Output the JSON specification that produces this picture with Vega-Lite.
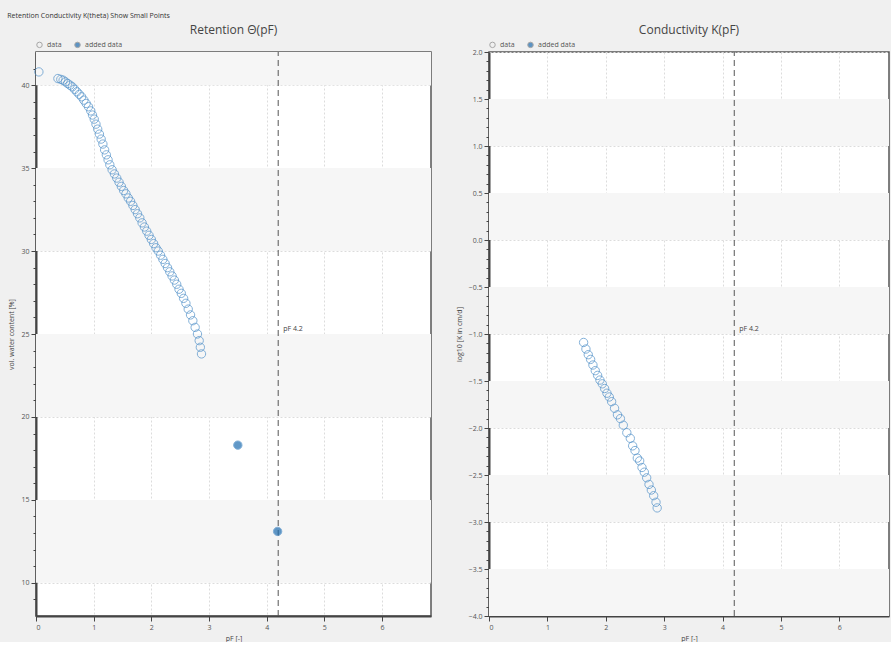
{
  "$schema": "https://vega.github.io/schema/vega-lite/v6.json",
  "background": "#f0f0f0",
  "padding": {"left": 7, "top": 12, "right": 1, "bottom": 0},
  "title": {"text": "Retention   Conductivity   K(theta)      Show Small Points", "anchor": "start", "fontSize": 7, "fontWeight": "normal", "font": "Open Sans", "color": "#333", "offset": 4},
  "config": {
    "font": "Open Sans",
    "view": {"fill": "white", "stroke": "#555", "strokeWidth": 1.5},
    "axis": {"labelFontSize": 7, "labelColor": "#555", "titleFontSize": 7, "titleFontWeight": "normal", "titleColor": "#444", "domainColor": "#444", "domainWidth": 2, "tickColor": "#444", "gridColor": "#dcdcdc", "gridDash": [2, 2], "zindex": 1, "labelPadding": 2},
    "legend": {"labelFontSize": 7, "labelColor": "#555"}
  },
  "spacing": 22,
  "resolve": {"scale": {"fill": "independent"}, "legend": {"fill": "independent"}},
  "hconcat": [
    {
      "width": 395,
      "height": 564,
      "title": {"text": "Retention Θ(pF)", "fontSize": 12, "fontWeight": "normal", "color": "#444", "offset": 4},
      "encoding": {
        "x": {"field": "x", "type": "quantitative", "scale": {"domain": [0, 6.85], "nice": false, "zero": false},
          "axis": {"title": "pF [-]", "format": "d", "values": [0, 0.5, 1, 1.5, 2, 2.5, 3, 3.5, 4, 4.5, 5, 5.5, 6, 6.5],
            "labelExpr": "datum.value % 1 === 0 ? datum.label : ''",
            "tickSize": {"condition": {"test": "datum.value % 1 === 0", "value": 5}, "value": 3},
            "gridOpacity": {"condition": {"test": "datum.value % 1 === 0", "value": 1}, "value": 0},
            "titlePadding": 4}},
        "y": {"field": "y", "type": "quantitative", "scale": {"domain": [8, 42], "nice": false, "zero": false},
          "axis": {"title": "vol. water content [%]", "values": [9, 10, 11, 12, 13, 14, 15, 16, 17, 18, 19, 20, 21, 22, 23, 24, 25, 26, 27, 28, 29, 30, 31, 32, 33, 34, 35, 36, 37, 38, 39, 40, 41],
            "labelExpr": "datum.value % 5 === 0 ? datum.label : ''",
            "tickSize": {"condition": {"test": "datum.value % 5 === 0", "value": 5}, "value": 3},
            "gridOpacity": {"condition": {"test": "datum.value % 5 === 0", "value": 1}, "value": 0},
            "titlePadding": 6}}
      },
      "layer": [
        {
          "data": {"values": [
            {"x": 0, "x2": 6.85, "y": 10, "y2": 15},
            {"x": 0, "x2": 6.85, "y": 20, "y2": 25},
            {"x": 0, "x2": 6.85, "y": 30, "y2": 35},
            {"x": 0, "x2": 6.85, "y": 40, "y2": 42}
          ]},
          "mark": {"type": "rect", "fill": "#f6f6f6"},
          "encoding": {"x2": {"field": "x2"}, "y2": {"field": "y2"}}
        },
        {
          "data": {"values": [{"x": 4.2, "y": 8, "y2": 42}]},
          "mark": {"type": "rule", "color": "#555", "strokeDash": [6, 4], "strokeWidth": 1},
          "encoding": {"y2": {"field": "y2"}}
        },
        {
          "data": {"values": [{"x": 4.2, "y": 25.3, "label": "pF 4.2"}]},
          "mark": {"type": "text", "align": "left", "dx": 5, "fontSize": 7, "color": "#444"},
          "encoding": {"text": {"field": "label"}}
        },
        {
          "data": {"values": [
            {"x": 0.05, "y": 40.8, "series": "data"},
            {"x": 0.38, "y": 40.4, "series": "data"},
            {"x": 0.43, "y": 40.35, "series": "data"},
            {"x": 0.47, "y": 40.3, "series": "data"},
            {"x": 0.51, "y": 40.2, "series": "data"},
            {"x": 0.55, "y": 40.1, "series": "data"},
            {"x": 0.59, "y": 40.0, "series": "data"},
            {"x": 0.63, "y": 39.9, "series": "data"},
            {"x": 0.67, "y": 39.75, "series": "data"},
            {"x": 0.71, "y": 39.6, "series": "data"},
            {"x": 0.75, "y": 39.45, "series": "data"},
            {"x": 0.79, "y": 39.3, "series": "data"},
            {"x": 0.83, "y": 39.1, "series": "data"},
            {"x": 0.87, "y": 38.9, "series": "data"},
            {"x": 0.91, "y": 38.7, "series": "data"},
            {"x": 0.95, "y": 38.45, "series": "data"},
            {"x": 0.98, "y": 38.2, "series": "data"},
            {"x": 1.01, "y": 37.95, "series": "data"},
            {"x": 1.04, "y": 37.65, "series": "data"},
            {"x": 1.07, "y": 37.35, "series": "data"},
            {"x": 1.10, "y": 37.05, "series": "data"},
            {"x": 1.13, "y": 36.75, "series": "data"},
            {"x": 1.16, "y": 36.45, "series": "data"},
            {"x": 1.19, "y": 36.1, "series": "data"},
            {"x": 1.22, "y": 35.8, "series": "data"},
            {"x": 1.25, "y": 35.5, "series": "data"},
            {"x": 1.28, "y": 35.2, "series": "data"},
            {"x": 1.32, "y": 34.9, "series": "data"},
            {"x": 1.36, "y": 34.65, "series": "data"},
            {"x": 1.40, "y": 34.4, "series": "data"},
            {"x": 1.44, "y": 34.15, "series": "data"},
            {"x": 1.48, "y": 33.9, "series": "data"},
            {"x": 1.52, "y": 33.65, "series": "data"},
            {"x": 1.56, "y": 33.45, "series": "data"},
            {"x": 1.60, "y": 33.2, "series": "data"},
            {"x": 1.64, "y": 33.0, "series": "data"},
            {"x": 1.68, "y": 32.75, "series": "data"},
            {"x": 1.72, "y": 32.5, "series": "data"},
            {"x": 1.76, "y": 32.25, "series": "data"},
            {"x": 1.80, "y": 32.0, "series": "data"},
            {"x": 1.84, "y": 31.7, "series": "data"},
            {"x": 1.88, "y": 31.45, "series": "data"},
            {"x": 1.92, "y": 31.2, "series": "data"},
            {"x": 1.96, "y": 30.95, "series": "data"},
            {"x": 2.00, "y": 30.7, "series": "data"},
            {"x": 2.04, "y": 30.45, "series": "data"},
            {"x": 2.08, "y": 30.2, "series": "data"},
            {"x": 2.12, "y": 30.0, "series": "data"},
            {"x": 2.16, "y": 29.75, "series": "data"},
            {"x": 2.20, "y": 29.5, "series": "data"},
            {"x": 2.24, "y": 29.25, "series": "data"},
            {"x": 2.28, "y": 29.0, "series": "data"},
            {"x": 2.32, "y": 28.75, "series": "data"},
            {"x": 2.36, "y": 28.5, "series": "data"},
            {"x": 2.40, "y": 28.25, "series": "data"},
            {"x": 2.44, "y": 28.0, "series": "data"},
            {"x": 2.48, "y": 27.7, "series": "data"},
            {"x": 2.52, "y": 27.45, "series": "data"},
            {"x": 2.56, "y": 27.15, "series": "data"},
            {"x": 2.60, "y": 26.85, "series": "data"},
            {"x": 2.64, "y": 26.5, "series": "data"},
            {"x": 2.68, "y": 26.15, "series": "data"},
            {"x": 2.72, "y": 25.8, "series": "data"},
            {"x": 2.76, "y": 25.4, "series": "data"},
            {"x": 2.80, "y": 25.0, "series": "data"},
            {"x": 2.83, "y": 24.6, "series": "data"},
            {"x": 2.85, "y": 24.2, "series": "data"},
            {"x": 2.87, "y": 23.8, "series": "data"},
            {"x": 3.5, "y": 18.3, "series": "added data"},
            {"x": 4.19, "y": 13.1, "series": "added data"}
          ]},
          "mark": {"type": "point", "shape": "circle", "filled": false, "size": 70, "stroke": "#4f90c9", "strokeWidth": 1},
          "encoding": {
            "fill": {"field": "series", "type": "nominal",
              "scale": {"domain": ["data", "added data"], "range": ["rgba(255,255,255,0)", "#1f6db0"]},
              "legend": {"orient": "top", "direction": "horizontal", "title": null, "symbolSize": 30, "symbolStrokeColor": "#888", "symbolStrokeWidth": 1, "offset": 2, "padding": 0, "columnPadding": 10}
            }
          }
        }
      ]
    },
    {
      "width": 400,
      "height": 564,
      "title": {"text": "Conductivity K(pF)", "fontSize": 12, "fontWeight": "normal", "color": "#444", "offset": 4},
      "encoding": {
        "x": {"field": "x", "type": "quantitative", "scale": {"domain": [0, 6.85], "nice": false, "zero": false},
          "axis": {"title": "pF [-]", "format": "d", "values": [0, 0.5, 1, 1.5, 2, 2.5, 3, 3.5, 4, 4.5, 5, 5.5, 6, 6.5],
            "labelExpr": "datum.value % 1 === 0 ? datum.label : ''",
            "tickSize": {"condition": {"test": "datum.value % 1 === 0", "value": 5}, "value": 3},
            "gridOpacity": {"condition": {"test": "datum.value % 1 === 0", "value": 1}, "value": 0},
            "titlePadding": 4}},
        "y": {"field": "y", "type": "quantitative", "scale": {"domain": [-4, 2], "nice": false, "zero": false},
          "axis": {"title": "log10 [K in cm/d]", "format": ".1f",
            "values": [-4, -3.9, -3.8, -3.7, -3.6, -3.5, -3.4, -3.3, -3.2, -3.1, -3, -2.9, -2.8, -2.7, -2.6, -2.5, -2.4, -2.3, -2.2, -2.1, -2, -1.9, -1.8, -1.7, -1.6, -1.5, -1.4, -1.3, -1.2, -1.1, -1, -0.9, -0.8, -0.7, -0.6, -0.5, -0.4, -0.3, -0.2, -0.1, 0, 0.1, 0.2, 0.3, 0.4, 0.5, 0.6, 0.7, 0.8, 0.9, 1, 1.1, 1.2, 1.3, 1.4, 1.5, 1.6, 1.7, 1.8, 1.9, 2],
            "labelExpr": "abs(datum.value * 2 - round(datum.value * 2)) < 0.001 ? datum.label : ''",
            "tickSize": {"condition": {"test": "abs(datum.value * 2 - round(datum.value * 2)) < 0.001", "value": 5}, "value": 3},
            "gridOpacity": {"condition": {"test": "abs(datum.value * 2 - round(datum.value * 2)) < 0.001", "value": 1}, "value": 0},
            "titlePadding": 6}}
      },
      "layer": [
        {
          "data": {"values": [
            {"x": 0, "x2": 6.85, "y": 1.0, "y2": 1.5},
            {"x": 0, "x2": 6.85, "y": 0.0, "y2": 0.5},
            {"x": 0, "x2": 6.85, "y": -1.0, "y2": -0.5},
            {"x": 0, "x2": 6.85, "y": -2.0, "y2": -1.5},
            {"x": 0, "x2": 6.85, "y": -3.0, "y2": -2.5},
            {"x": 0, "x2": 6.85, "y": -4.0, "y2": -3.5}
          ]},
          "mark": {"type": "rect", "fill": "#f6f6f6"},
          "encoding": {"x2": {"field": "x2"}, "y2": {"field": "y2"}}
        },
        {
          "data": {"values": [{"x": 4.2, "y": -4, "y2": 2}]},
          "mark": {"type": "rule", "color": "#555", "strokeDash": [6, 4], "strokeWidth": 1},
          "encoding": {"y2": {"field": "y2"}}
        },
        {
          "data": {"values": [{"x": 4.2, "y": -0.95, "label": "pF 4.2"}]},
          "mark": {"type": "text", "align": "left", "dx": 5, "fontSize": 7, "color": "#444"},
          "encoding": {"text": {"field": "label"}}
        },
        {
          "data": {"values": [
            {"x": 1.62, "y": -1.09, "series": "data"},
            {"x": 1.66, "y": -1.16, "series": "data"},
            {"x": 1.70, "y": -1.22, "series": "data"},
            {"x": 1.74, "y": -1.27, "series": "data"},
            {"x": 1.78, "y": -1.33, "series": "data"},
            {"x": 1.82, "y": -1.39, "series": "data"},
            {"x": 1.86, "y": -1.44, "series": "data"},
            {"x": 1.90, "y": -1.49, "series": "data"},
            {"x": 1.94, "y": -1.53, "series": "data"},
            {"x": 1.98, "y": -1.58, "series": "data"},
            {"x": 2.02, "y": -1.63, "series": "data"},
            {"x": 2.06, "y": -1.67, "series": "data"},
            {"x": 2.10, "y": -1.72, "series": "data"},
            {"x": 2.15, "y": -1.79, "series": "data"},
            {"x": 2.20, "y": -1.86, "series": "data"},
            {"x": 2.25, "y": -1.90, "series": "data"},
            {"x": 2.30, "y": -1.97, "series": "data"},
            {"x": 2.36, "y": -2.05, "series": "data"},
            {"x": 2.42, "y": -2.11, "series": "data"},
            {"x": 2.46, "y": -2.19, "series": "data"},
            {"x": 2.50, "y": -2.24, "series": "data"},
            {"x": 2.54, "y": -2.32, "series": "data"},
            {"x": 2.58, "y": -2.35, "series": "data"},
            {"x": 2.62, "y": -2.42, "series": "data"},
            {"x": 2.66, "y": -2.47, "series": "data"},
            {"x": 2.70, "y": -2.53, "series": "data"},
            {"x": 2.74, "y": -2.60, "series": "data"},
            {"x": 2.78, "y": -2.66, "series": "data"},
            {"x": 2.82, "y": -2.72, "series": "data"},
            {"x": 2.86, "y": -2.79, "series": "data"},
            {"x": 2.88, "y": -2.85, "series": "data"}
          ]},
          "mark": {"type": "point", "shape": "circle", "filled": false, "size": 70, "stroke": "#4f90c9", "strokeWidth": 1},
          "encoding": {
            "fill": {"field": "series", "type": "nominal",
              "scale": {"domain": ["data", "added data"], "range": ["rgba(255,255,255,0)", "#1f6db0"]},
              "legend": {"orient": "top", "direction": "horizontal", "title": null, "symbolSize": 30, "symbolStrokeColor": "#888", "symbolStrokeWidth": 1, "offset": 2, "padding": 0, "columnPadding": 10}
            }
          }
        }
      ]
    }
  ]
}
